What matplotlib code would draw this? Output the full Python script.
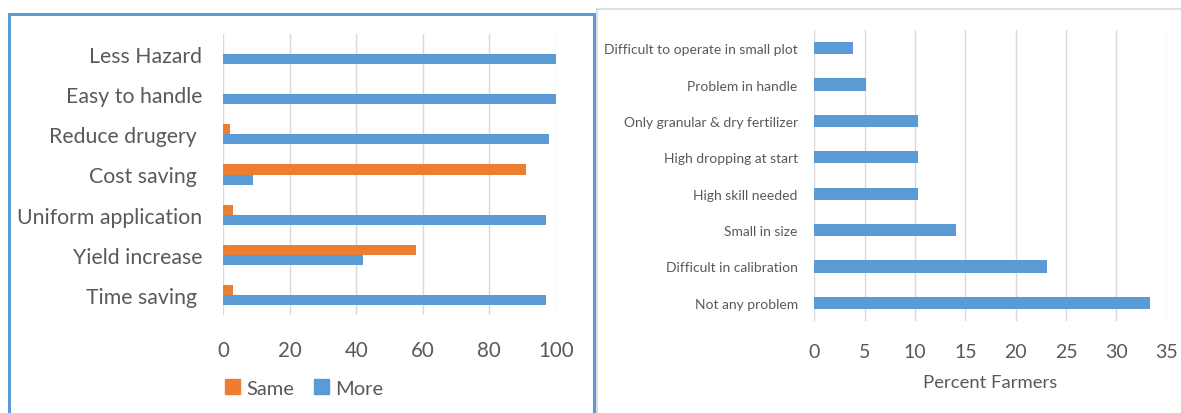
import matplotlib
matplotlib.use("Agg")
import matplotlib.pyplot as plt
from matplotlib.patches import Patch, Rectangle
from matplotlib.lines import Line2D
import numpy as np

plt.rcParams['font.family'] = ['Lato', 'DejaVu Sans']

# benefits of the applicator (top to bottom)
benefits = ['Less Hazard', 'Easy to handle', 'Reduce drugery ', 'Cost saving ',
            'Uniform application', 'Yield increase', 'Time saving ']
same = [0, 0, 2, 91, 3, 58, 3]
more = [100, 100, 98, 9, 97, 42, 97]

# problems faced (top to bottom)
problems = ['Difficult to operate in small plot', 'Problem in handle',
            'Only granular & dry fertilizer', 'High dropping at start',
            'High skill needed', 'Small in size', 'Difficult in calibration',
            'Not any problem']
percent = [3.85, 5.13, 10.26, 10.26, 10.26, 14.10, 23.08, 33.33]

blue = '#5B9BD5'
orange = '#ED7D31'
txt = '#595959'
grid = '#D9D9D9'

W, H = 1181, 414
fig = plt.figure(figsize=(W / 100, H / 100), dpi=100)


def box(x0, y0, x1, y1):
    return [x0 / W, 1 - y1 / H, (x1 - x0) / W, (y1 - y0) / H]


def style(ax):
    for s in ax.spines.values():
        s.set_visible(False)
    ax.grid(axis='x', color=grid, linewidth=1)
    ax.set_axisbelow(True)
    ax.tick_params(length=0, colors=txt)


# left panel
ax1 = fig.add_axes(box(223.3, 35, 555.7, 316))
n1 = len(benefits)
yc = np.arange(n1)[::-1] + 0.5
h = 0.25
ax1.barh(yc + h / 2, same, height=h, color=orange, label='Same')
ax1.barh(yc - h / 2, more, height=h, color=blue, label='More')
ax1.set_xlim(0, 100)
ax1.set_ylim(0, n1)
ax1.set_xticks(range(0, 101, 20))
ax1.set_yticks(yc)
ax1.set_yticklabels(benefits, fontsize=15.3, color=txt)
ax1.tick_params(axis='x', labelsize=14.8, pad=18)
ax1.tick_params(axis='y', pad=15)
style(ax1)

fig.legend(handles=[Patch(color=orange, label='Same'), Patch(color=blue, label='More')],
           loc='center', bbox_to_anchor=(304 / W, 1 - 389 / H), ncol=2, frameon=False,
           fontsize=14.5, labelcolor=txt, handlelength=0.75, handleheight=0.75,
           handletextpad=0.3, columnspacing=1.0)

# right panel
ax2 = fig.add_axes(box(814.3, 31, 1166.7, 322))
n2 = len(problems)
yc2 = np.arange(n2)[::-1] + 0.5
ax2.barh(yc2, percent, height=0.34, color=blue)
ax2.set_xlim(0, 35)
ax2.set_ylim(0, n2)
ax2.set_xticks(range(0, 36, 5))
ax2.set_yticks(yc2)
ax2.set_yticklabels(problems, fontsize=10, color=txt)
ax2.tick_params(axis='x', labelsize=14, pad=16)
ax2.tick_params(axis='y', pad=12)
ax2.set_xlabel('Percent Farmers', fontsize=13.3, color=txt, labelpad=10)
style(ax2)

# panel borders
fig.add_artist(Rectangle((8.5 / W, -0.1), (585 / W), 1.1 - 14.5 / H, transform=fig.transFigure,
                         fill=False, edgecolor=blue, linewidth=2.2))
fig.add_artist(Line2D([597 / W, 1], [1 - 9.5 / H] * 2, transform=fig.transFigure,
                      color=grid, linewidth=1.2))
fig.add_artist(Line2D([596.5 / W] * 2, [0, 1 - 9.5 / H], transform=fig.transFigure,
                      color=grid, linewidth=1.2))

fig.savefig('out.png', dpi=100)
